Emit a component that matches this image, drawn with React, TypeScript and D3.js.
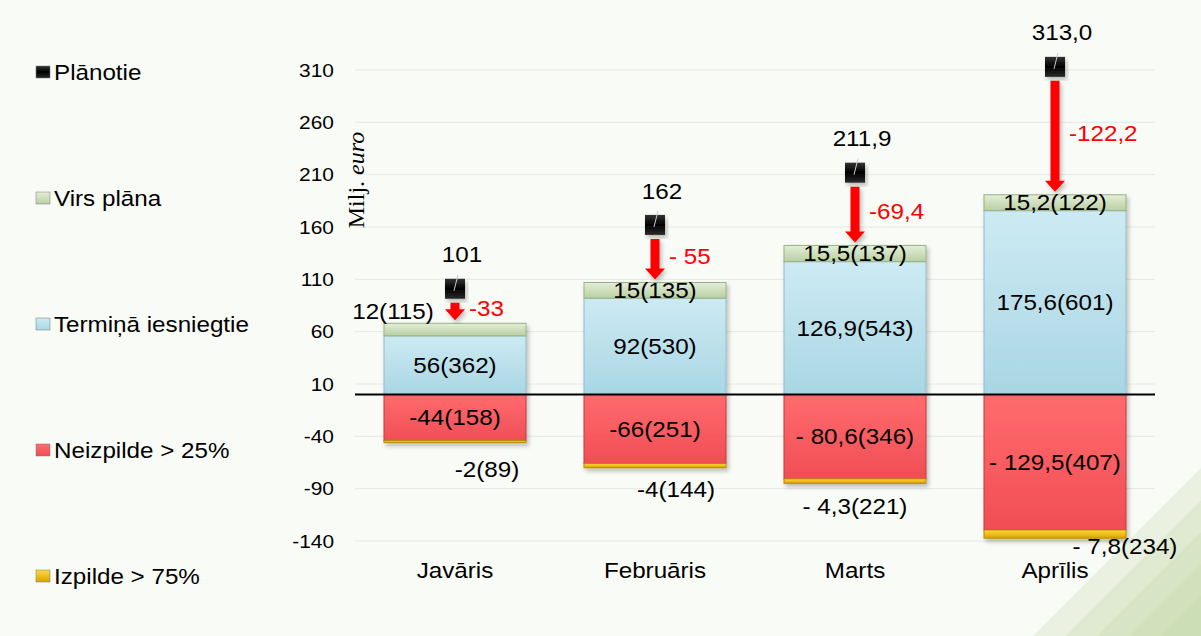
import React from "react";
import * as d3 from "d3";

const months = ["Javāris", "Februāris", "Marts", "Aprīlis"];
const planned = [101, 162, 211.9, 313.0];
const plannedLabels = ["101", "162", "211,9", "313,0"];
const onTime = [56, 92, 126.9, 175.6];
const onTimeLabels = ["56(362)", "92(530)", "126,9(543)", "175,6(601)"];
const abovePlan = [12, 15, 15.5, 15.2];
const abovePlanLabels = ["12(115)", "15(135)", "15,5(137)", "15,2(122)"];
const underPerf = [-44, -66, -80.6, -129.5];
const underPerfLabels = ["-44(158)", "-66(251)", "- 80,6(346)", "- 129,5(407)"];
const overPerf = [-2, -4, -4.3, -7.8];
const overPerfLabels = ["-2(89)", "-4(144)", "- 4,3(221)", "- 7,8(234)"];
const gapLabels = ["-33", "- 55", "-69,4", "-122,2"];
const yTicks = [-140, -90, -40, 10, 60, 110, 160, 210, 260, 310];

const legendItems = [
  { name: "Plānotie", fill: "url(#gBlack)" },
  { name: "Virs plāna", fill: "url(#gGreen)" },
  { name: "Termiņā iesniegtie", fill: "url(#gBlue)" },
  { name: "Neizpilde > 25%", fill: "url(#gRed)" },
  { name: "Izpilde > 75%", fill: "url(#gYellow)" },
];

// small per-label nudges for labels that sit outside their bars
const overDx = [32, 21, 0, 70];
const overDy = [27, 22, 23, 8];

const FONT = "'Liberation Sans', Arial, sans-serif";

// text is slightly stretched horizontally in the original
function T({ x, y, anchor = "middle", size = 22, fill = "#000", children }: any) {
  return (
    <text
      transform={`translate(${x},${y}) scale(1.1,1)`}
      textAnchor={anchor}
      dominantBaseline="central"
      fontSize={size}
      fill={fill}
    >
      {children}
    </text>
  );
}

export default function App() {
  const width = 1201;
  const height = 636;
  const x = d3.scaleBand().domain(months).range([355, 1155]).paddingInner(0.29).paddingOuter(0.145);
  const y = d3.scaleLinear().domain([-140, 310]).range([541, 70]);
  const bw = x.bandwidth();
  const cx = (m: string) => (x(m) as number) + bw / 2;

  return (
    <svg width={width} height={height} style={{ position: "absolute", left: 0, top: 0 }} fontFamily={FONT}>
      <defs>
        <linearGradient id="gBlue" x1="0" y1="0" x2="0" y2="1">
          <stop offset="0" stopColor="#cdeaf3" />
          <stop offset="1" stopColor="#a9d6e4" />
        </linearGradient>
        <linearGradient id="gGreen" x1="0" y1="0" x2="0" y2="1">
          <stop offset="0" stopColor="#e3eed7" />
          <stop offset="1" stopColor="#b9cfa3" />
        </linearGradient>
        <linearGradient id="gRed" x1="0" y1="0" x2="0" y2="1">
          <stop offset="0" stopColor="#ff6b6e" />
          <stop offset="1" stopColor="#f04e55" />
        </linearGradient>
        <linearGradient id="gYellow" x1="0" y1="0" x2="0" y2="1">
          <stop offset="0" stopColor="#ffd93a" />
          <stop offset="1" stopColor="#d9a400" />
        </linearGradient>
        <linearGradient id="gBlack" x1="0" y1="0" x2="0" y2="1">
          <stop offset="0" stopColor="#333" />
          <stop offset="0.5" stopColor="#000" />
          <stop offset="1" stopColor="#2a2a2a" />
        </linearGradient>
        <filter id="shadow" x="-10%" y="-10%" width="130%" height="130%">
          <feDropShadow dx="2" dy="3" stdDeviation="2" floodColor="#000" floodOpacity="0.25" />
        </filter>
      </defs>

      <rect width={width} height={height} fill="#f9fbf7" />
      {/* bottom-right decoration */}
      {[0, 1, 2, 3, 4].map((i) => (
        <polygon
          key={i}
          points={`${1201 - 40 - i * 32},636 1201,${636 - 40 - i * 32} 1201,636`}
          fill="#a9c57f"
          opacity={0.1 + i * 0.02}
        />
      ))}

      {/* gridlines */}
      {yTicks.map((t) => (
        <line key={t} x1={355} x2={1155} y1={y(t)} y2={y(t)} stroke="#e6e8e3" strokeWidth={1} />
      ))}
      {yTicks.map((t) => (
        <T key={"t" + t} x={334} y={y(t)} anchor="end" size={19}>
          {t}
        </T>
      ))}
      <text
        transform={`translate(356,180) rotate(-90)`}
        textAnchor="middle"
        dominantBaseline="central"
        fontFamily="'Liberation Serif', 'Times New Roman', serif"
        fontSize={24}
      >
        Milj. <tspan fontStyle="italic">euro</tspan>
      </text>

      {/* bars */}
      {months.map((m, i) => {
        const x0 = x(m) as number;
        const blueTop = y(onTime[i]);
        const greenTop = y(onTime[i] + abovePlan[i]);
        const redBot = y(underPerf[i]);
        const yelBot = y(underPerf[i] + overPerf[i]);
        return (
          <g key={m} filter="url(#shadow)">
            <rect x={x0} y={blueTop} width={bw} height={y(0) - blueTop} fill="url(#gBlue)" stroke="#8fbccb" strokeWidth={1} />
            <rect x={x0} y={greenTop} width={bw} height={blueTop - greenTop} fill="url(#gGreen)" stroke="#98b282" strokeWidth={1} />
            <rect x={x0} y={y(0)} width={bw} height={redBot - y(0)} fill="url(#gRed)" stroke="#c7393f" strokeWidth={1} />
            <rect x={x0} y={redBot} width={bw} height={yelBot - redBot} fill="url(#gYellow)" stroke="#b88a00" strokeWidth={1} />
          </g>
        );
      })}

      {/* zero line */}
      <line x1={355} x2={1155} y1={y(0)} y2={y(0)} stroke="#000" strokeWidth={2} />

      {/* bar labels */}
      {months.map((m, i) => {
        const c = cx(m);
        const blueTop = y(onTime[i]);
        const greenTop = y(onTime[i] + abovePlan[i]);
        const redBot = y(underPerf[i]);
        const yelBot = y(underPerf[i] + overPerf[i]);
        const greenX = i === 0 ? (x(m) as number) + 9 : c;
        const greenY = i === 0 ? greenTop - 12 : (greenTop + blueTop) / 2;
        return (
          <g key={"l" + m}>
            <T x={c} y={(blueTop + y(0)) / 2}>{onTimeLabels[i]}</T>
            <T x={greenX} y={greenY}>{abovePlanLabels[i]}</T>
            <T x={c} y={(y(0) + redBot) / 2}>{underPerfLabels[i]}</T>
            <T x={c + overDx[i]} y={yelBot + overDy[i]}>{overPerfLabels[i]}</T>
          </g>
        );
      })}

      {/* planned markers and gap arrows */}
      {months.map((m, i) => {
        const c = cx(m);
        const py = y(planned[i]);
        const top = py + 14;
        const bot = y(onTime[i] + abovePlan[i]) - 3;
        const head = 11;
        return (
          <g key={"p" + m}>
            <path
              d={`M${c - 4.5},${top} L${c + 4.5},${top} L${c + 4.5},${bot - head} L${c + 10},${bot - head} L${c},${bot} L${c - 10},${bot - head} L${c - 4.5},${bot - head} Z`}
              fill="#ff0000"
              filter="url(#shadow)"
            />
            <rect x={c - 10} y={py - 10} width={20} height={20} fill="url(#gBlack)" filter="url(#shadow)" />
            <line x1={c - 1} y1={py + 2} x2={c + 3} y2={py - 14} stroke="#ccc" strokeWidth={1} />
            <T x={c + 7} y={py - 34}>{plannedLabels[i]}</T>
            <T x={c + 14} y={(top + bot) / 2 - 3} anchor="start" fill="#ff0000">
              {gapLabels[i]}
            </T>
          </g>
        );
      })}

      {/* x axis labels */}
      {months.map((m) => (
        <T key={"x" + m} x={cx(m)} y={570}>
          {m}
        </T>
      ))}

      {/* legend */}
      {legendItems.map((d, i) => {
        const ly = 72 + i * 126;
        return (
          <g key={d.name}>
            <rect x={36} y={ly - 6} width={14} height={12} fill={d.fill} stroke="#777" strokeWidth={0.5} />
            <T x={54} y={ly} anchor="start" size={22}>
              {d.name}
            </T>
          </g>
        );
      })}
    </svg>
  );
}
